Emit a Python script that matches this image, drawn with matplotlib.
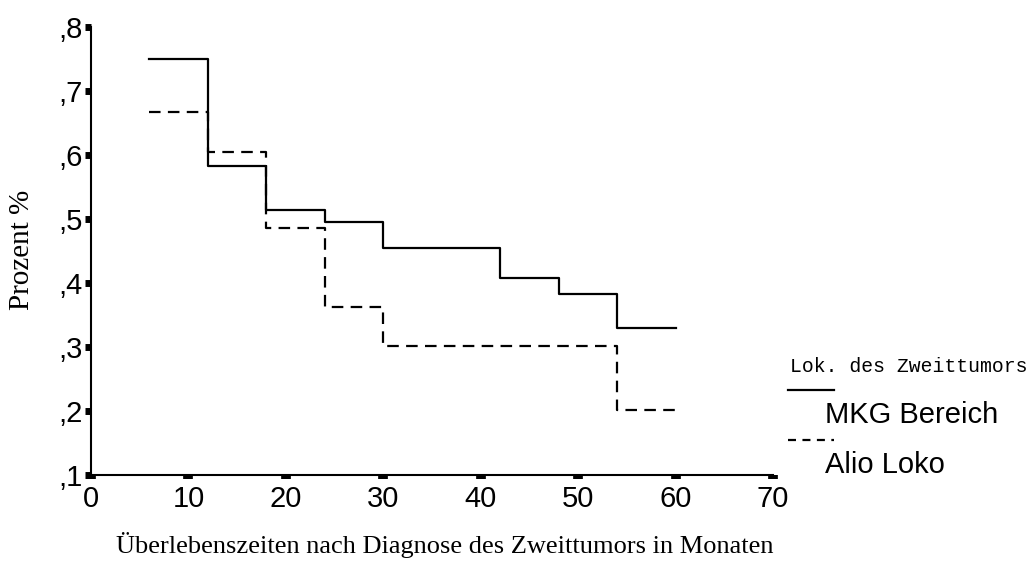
import matplotlib
matplotlib.use("Agg")
import matplotlib.pyplot as plt
from matplotlib.lines import Line2D
from matplotlib.ticker import FuncFormatter

# survival steps (months, proportion), drawn as post-steps
mkg_months = [6, 12, 18, 24, 30, 42, 48, 54, 60]
mkg_surv = [0.75, 0.583, 0.514, 0.495, 0.455, 0.408, 0.383, 0.33, 0.33]

alio_months = [6, 12, 18, 24, 30, 54, 60]
alio_surv = [0.667, 0.604, 0.486, 0.362, 0.302, 0.201, 0.201]

x_ticks = [0, 10, 20, 30, 40, 50, 60, 70]
y_ticks = [0.1, 0.2, 0.3, 0.4, 0.5, 0.6, 0.7, 0.8]

legend_title = "Lok. des Zweittumors"
legend_labels = ["MKG Bereich", "Alio Loko"]

W, H = 1029, 574
fig = plt.figure(figsize=(W / 100, H / 100), dpi=100)
ax = fig.add_axes([91 / W, 1 - 475 / H, (773 - 91) / W, (475 - 27) / H])

ax.step(mkg_months, mkg_surv, where="post", color="black", lw=1.6)
ax.step(alio_months, alio_surv, where="post", color="black", lw=1.6,
        linestyle=(0, (5.2, 3.3)))

ax.set_xlim(0, 70)
ax.set_ylim(0.1, 0.8)
ax.set_xticks(x_ticks)
ax.set_yticks(y_ticks)
ax.yaxis.set_major_formatter(FuncFormatter(lambda v, p: "," + str(int(round(v * 10)))))

for s in ["top", "right"]:
    ax.spines[s].set_visible(False)
for s in ["left", "bottom"]:
    ax.spines[s].set_linewidth(1.5)

ax.tick_params(axis="y", length=4, width=5, pad=2, labelsize=21)
ax.tick_params(axis="x", length=3, width=7, pad=4, labelsize=21)
for lab in ax.get_xticklabels() + ax.get_yticklabels():
    lab.set_fontfamily("Liberation Sans")

fig.text(22 / W, 1 - 250 / H, "Prozent %", family="Liberation Serif",
         fontsize=21, rotation=90, ha="center", va="center")
fig.text(445 / W, 1 - 545 / H,
         "\u00dcberlebenszeiten nach Diagnose des Zweittumors in Monaten",
         family="Liberation Serif", fontsize=19, ha="center", va="center")

# legend drawn by hand in figure pixels
fig.text(790 / W, 1 - 367 / H, legend_title, family="Liberation Mono",
         fontsize=14.2, ha="left", va="center")
fig.add_artist(Line2D([788 / W, 834 / W], [1 - 390 / H, 1 - 390 / H],
                      color="black", lw=1.6, transform=fig.transFigure))
fig.add_artist(Line2D([788 / W, 834 / W], [1 - 440 / H, 1 - 440 / H],
                      color="black", lw=1.6, linestyle=(0, (3.6, 2.9)),
                      transform=fig.transFigure))
fig.text(825 / W, 1 - 415 / H, legend_labels[0], family="Liberation Sans",
         fontsize=21, ha="left", va="center")
fig.text(825 / W, 1 - 465 / H, legend_labels[1], family="Liberation Sans",
         fontsize=21, ha="left", va="center")

fig.savefig("out.png", dpi=100)
